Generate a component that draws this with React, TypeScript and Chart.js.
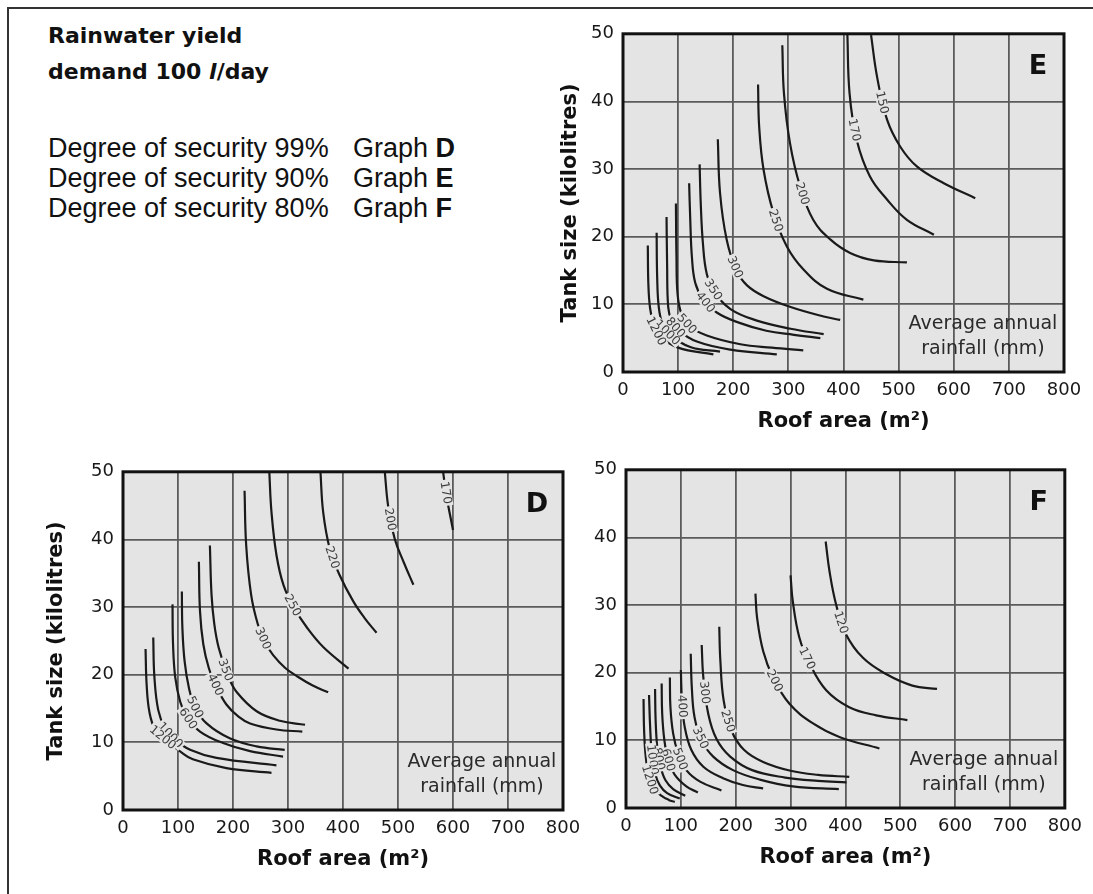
import React, { useEffect, useRef } from 'react';
import { Chart, registerables } from 'chart.js';

Chart.register(...registerables);

const FONT = "'DejaVu Sans', 'Liberation Sans', sans-serif";

const X_TICKS = [0, 100, 200, 300, 400, 500, 600, 700, 800];
const Y_TICKS = [0, 10, 20, 30, 40, 50];
const X_TITLE = 'Roof area (m²)';
const Y_TITLE = 'Tank size (kilolitres)';
const NOTE_LINES = ['Average annual', 'rainfall (mm)'];

type Pt = [number, number];

// ---------- Graph E (90% security) ----------
const E_RAINFALL = ['150', '170', '200', '250', '300', '350', '400', '500', '800', '1000', '1200'];
const E_CURVES: Pt[][] = [
  [[450, 49.8], [461, 43.6], [479, 37.3], [503, 33.3], [533, 30.4], [582, 27.9], [639, 25.7]],
  [[407, 50], [411, 41.2], [424, 34.3], [448, 28.9], [479, 25.5], [515, 22.5], [564, 20.3]],
  [[289, 48.3], [292, 41.2], [303, 33.8], [321, 27.5], [345, 22.5], [376, 19.6], [412, 17.6], [455, 16.5], [515, 16.2]],
  [[245, 42.5], [247, 36.3], [255, 29.9], [273, 23.5], [297, 18.6], [327, 15.2], [370, 12.3], [436, 10.7]],
  [[172, 34.4], [176, 26.5], [188, 19.6], [206, 15], [225, 12.8], [255, 11.2], [304, 9.6], [364, 8.2], [394, 7.7]],
  [[139, 30.7], [141, 25], [145, 19], [152, 14.5], [166, 11.9], [195, 9.3], [243, 7.6], [304, 6.4], [364, 5.6]],
  [[120, 27.9], [122, 22.5], [125, 17], [131, 13.2], [145, 10.8], [170, 8.8], [210, 7.3], [260, 6.1], [310, 5.5], [358, 5.0]],
  [[96, 24.9], [97, 17], [99, 11.5], [106, 8.6], [120, 6.8], [152, 5.4], [213, 4.1], [270, 3.6], [327, 3.2]],
  [[79, 22.9], [80, 16], [82, 9.6], [88, 7.6], [100, 6.2], [134, 4.5], [195, 3.3], [279, 2.6]],
  [[61, 20.6], [62, 14], [65, 9.5], [72, 7], [84, 5.6], [122, 3.7], [176, 3.0]],
  [[45, 18.7], [46, 13], [49, 9.5], [55, 7.2], [66, 5.4], [100, 3.6], [164, 2.6]],
];
const E_LABEL_AT = [1.6, 1.8, 3.2, 3.2, 2.9, 3.9, 4.2, 3.8, 3.7, 3.8, 3.6];

// ---------- Graph D (99% security) ----------
const D_RAINFALL = ['170', '200', '220', '250', '300', '350', '400', '500', '600', '1000', '1200'];
const D_CURVES: Pt[][] = [
  [[582, 50], [588, 46.5], [600, 41.4]],
  [[476, 50], [482, 45], [494, 40.1], [510, 36.7], [528, 33.3]],
  [[359, 50], [364, 44], [376, 38.6], [394, 34.7], [419, 30.8], [440, 28.3], [461, 26.2]],
  [[266, 50], [270, 44], [279, 37.7], [292, 33.2], [311, 29.9], [336, 26.8], [364, 24.1], [410, 20.9]],
  [[221, 47.2], [224, 39.1], [233, 31.8], [245, 27.5], [258, 24.8], [273, 22.9], [295, 21], [316, 19.8], [345, 18.4], [373, 17.4]],
  [[158, 39.1], [161, 31.8], [166, 27.5], [174, 24], [191, 19.8], [207, 17.4], [243, 14.6], [285, 13.2], [331, 12.6]],
  [[138, 36.7], [140, 29.4], [146, 24.5], [156, 21], [170, 18.2], [188, 15.6], [210, 13.8], [231, 12.8], [279, 11.9], [326, 11.6]],
  [[107, 32.3], [108, 26.9], [112, 22], [120, 18], [131, 15.2], [152, 12.8], [194, 10.6], [243, 9.4], [294, 8.9]],
  [[90, 30.4], [91, 24.5], [95, 19.6], [104, 16], [116, 13.8], [140, 11.6], [182, 9.9], [231, 8.7], [291, 7.9]],
  [[55, 25.5], [57, 19.8], [64, 14.8], [76, 12.2], [95, 10.4], [122, 8.9], [170, 7.7], [279, 6.6]],
  [[41, 23.8], [43, 18.5], [48, 14.5], [58, 12], [80, 10.2], [105, 8.6], [127, 7.5], [188, 6.2], [270, 5.5]],
];
const D_LABEL_AT = [0.9, 1.4, 2.3, 3.9, 3.8, 3.8, 3.9, 4.0, 4.1, 3.6, 3.7];

// ---------- Graph F (80% security) ----------
const F_RAINFALL = ['120', '170', '200', '250', '300', '350', '400', '500', '600', '800', '1000', '1200'];
const F_CURVES: Pt[][] = [
  [[364, 39.4], [371, 35], [383, 30.1], [401, 25.7], [432, 22.2], [474, 19.8], [522, 18.1], [567, 17.6]],
  [[300, 34.4], [304, 30.6], [316, 25.2], [335, 21.3], [365, 17.4], [407, 14.9], [456, 13.7], [513, 13]],
  [[236, 31.7], [239, 28.1], [250, 23.2], [268, 19.3], [298, 15.4], [341, 12.5], [389, 10.5], [462, 8.8]],
  [[170, 26.8], [172, 21.8], [178, 15.9], [192, 11.5], [215, 8.6], [250, 6.8], [300, 5.5], [350, 4.9], [407, 4.6]],
  [[138, 24.1], [141, 19.3], [150, 13.9], [165, 10.2], [190, 7.6], [230, 5.6], [290, 4.5], [350, 4.0], [402, 3.8]],
  [[118, 22.8], [120, 17.8], [125, 13.4], [138, 10], [159, 7.6], [195, 5.6], [244, 4.2], [304, 3.2], [388, 2.8]],
  [[100, 20.4], [102, 15.9], [107, 12], [119, 8.6], [141, 6.1], [177, 4.4], [213, 3.4], [250, 2.9]],
  [[80, 19.3], [81, 14.9], [86, 11], [95, 8.1], [110, 5.6], [135, 3.9], [174, 2.6]],
  [[65, 18.4], [66, 13.9], [70, 10], [77, 7.1], [89, 4.9], [110, 3.2], [131, 2.3]],
  [[53, 17.6], [54, 13], [57, 9], [63, 6.1], [72, 4.1], [86, 2.8], [108, 1.8]],
  [[42, 16.7], [44, 12], [47, 8.1], [53, 5.1], [62, 3.3], [75, 2.2], [98, 1.4]],
  [[32, 16.1], [33, 11.5], [36, 7.6], [42, 4.6], [52, 2.8], [65, 1.8], [78, 1.2], [89, 0.9]],
];
const F_LABEL_AT = [2.6, 2.8, 3.1, 2.7, 1.4, 2.9, 1.2, 3.3, 3.0, 2.6, 2.3, 3.2];

type Box = { cx: number; cy: number; cw: number; ch: number; L: number; T: number; R: number; B: number };

const PLOT_BG = '#e4e4e4';

function bezierAt(p0: any, p1: any, t: number) {
  const c1x = p0.cp2x ?? p0.x, c1y = p0.cp2y ?? p0.y;
  const c2x = p1.cp1x ?? p1.x, c2y = p1.cp1y ?? p1.y;
  const u = 1 - t;
  const x = u * u * u * p0.x + 3 * u * u * t * c1x + 3 * u * t * t * c2x + t * t * t * p1.x;
  const y = u * u * u * p0.y + 3 * u * u * t * c1y + 3 * u * t * t * c2y + t * t * t * p1.y;
  const dx = 3 * u * u * (c1x - p0.x) + 6 * u * t * (c2x - c1x) + 3 * t * t * (p1.x - c2x);
  const dy = 3 * u * u * (c1y - p0.y) + 6 * u * t * (c2y - c1y) + 3 * t * t * (p1.y - c2y);
  return { x, y, ang: Math.atan2(dy, dx) };
}

const decorPlugin = {
  id: 'decor',
  beforeDraw(chart: any) {
    const { ctx, chartArea: a } = chart;
    ctx.save();
    ctx.fillStyle = PLOT_BG;
    ctx.fillRect(a.left, a.top, a.right - a.left, a.bottom - a.top);
    ctx.restore();
  },
  afterDatasetsDraw(chart: any, _args: any, opts: any) {
    const ctx = chart.ctx;
    ctx.save();
    ctx.font = `12px ${FONT}`;
    ctx.textAlign = 'center';
    ctx.textBaseline = 'middle';
    const dpr = chart.currentDevicePixelRatio || 1;
    chart.data.datasets.forEach((ds: any, i: number) => {
      const pos = opts.labelAt?.[i];
      if (pos == null) return;
      const pts = chart.getDatasetMeta(i).data;
      if (pts.length < 2) return;
      const k = Math.min(Math.floor(pos), pts.length - 2);
      const t = Math.min(1, pos - k);
      const { x, y, ang } = bezierAt(pts[k], pts[k + 1], t);
      const w = ctx.measureText(ds.label).width;
      ctx.setTransform(dpr, 0, 0, dpr, 0, 0);
      ctx.translate(x, y);
      ctx.rotate(ang);
      ctx.fillStyle = PLOT_BG;
      ctx.fillRect(-w / 2 - 1.5, -5.5, w + 3, 11);
      ctx.fillStyle = '#3c3c3c';
      ctx.fillText(ds.label, 0, 0.5);
    });
    ctx.restore();
  },
  afterDraw(chart: any, _args: any, opts: any) {
    const { ctx, chartArea: a } = chart;
    ctx.save();
    ctx.strokeStyle = '#111';
    ctx.lineWidth = 3;
    ctx.strokeRect(a.left, a.top, a.right - a.left, a.bottom - a.top);
    ctx.fillStyle = '#111';
    ctx.textAlign = 'center';
    ctx.textBaseline = 'middle';
    ctx.font = `bold 27px ${FONT}`;
    ctx.fillText(opts.letter, a.right - 26, a.top + 33);
    ctx.font = `19px ${FONT}`;
    ctx.fillStyle = '#2a2a2a';
    ctx.fillText(NOTE_LINES[0], a.right - 81, a.bottom - 48);
    ctx.fillText(NOTE_LINES[1], a.right - 81, a.bottom - 23);
    ctx.restore();
  },
};

type PanelProps = {
  letter: string;
  rainfall: string[];
  curves: Pt[][];
  labelAt: number[];
  box: Box;
  yTitle: boolean;
  yTitlePad: number;
};

function Panel({ letter, rainfall, curves, labelAt, box, yTitle, yTitlePad }: PanelProps) {
  const ref = useRef<HTMLCanvasElement>(null);
  useEffect(() => {
    const canvas = ref.current;
    if (!canvas) return;
    const chart = new Chart(canvas, {
      type: 'line',
      data: {
        datasets: curves.map((c, i) => ({
          label: rainfall[i],
          data: c.map(([x, y]) => ({ x, y })),
          borderColor: '#1a1a1a',
          borderWidth: 2.2,
          pointRadius: 0,
          fill: false,
          tension: 0.4,
        })),
      },
      options: {
        responsive: false,
        animation: false,
        layout: { padding: { top: box.T - box.cy, right: box.cx + box.cw - box.R, left: 0, bottom: 0 } },
        plugins: {
          legend: { display: false },
          tooltip: { enabled: false },
          decor: { letter, labelAt },
        } as any,
        scales: {
          x: {
            type: 'linear',
            min: 0,
            max: 800,
            afterBuildTicks: (s: any) => { s.ticks = X_TICKS.map((v) => ({ value: v })); },
            afterFit: (s: any) => { s.height = box.cy + box.ch - box.B; },
            grid: { color: '#5b5b5b', lineWidth: 1.8, drawTicks: false },
            border: { display: false },
            ticks: { padding: 8, color: '#181818', font: { family: FONT, size: 18 }, maxRotation: 0, autoSkip: false },
            title: {
              display: true,
              text: X_TITLE,
              color: '#111',
              font: { family: FONT, size: 21, weight: 'bold' },
              padding: { top: 0, bottom: 8 },
            },
          },
          y: {
            type: 'linear',
            min: 0,
            max: 50,
            afterBuildTicks: (s: any) => { s.ticks = Y_TICKS.map((v) => ({ value: v })); },
            afterFit: (s: any) => { s.width = box.L - box.cx; },
            grid: { color: '#5b5b5b', lineWidth: 1.8, drawTicks: false },
            border: { display: false },
            ticks: { padding: 9, color: '#181818', font: { family: FONT, size: 18 }, autoSkip: false },
            title: {
              display: yTitle,
              text: Y_TITLE,
              color: '#111',
              font: { family: FONT, size: 21, weight: 'bold' },
              padding: { top: yTitlePad, bottom: 0 },
            },
          },
        },
      } as any,
      plugins: [decorPlugin],
    });
    return () => chart.destroy();
  }, []);
  return (
    <canvas
      ref={ref}
      width={box.cw}
      height={box.ch}
      style={{ position: 'absolute', left: box.cx, top: box.cy, width: box.cw, height: box.ch }}
    />
  );
}

const BOX_E: Box = { cx: 530, cy: 14, cw: 560, ch: 428, L: 623, T: 31, R: 1064, B: 372 };
const BOX_D: Box = { cx: 10, cy: 452, cw: 580, ch: 428, L: 123, T: 469, R: 563, B: 810 };
const BOX_F: Box = { cx: 560, cy: 450, cw: 530, ch: 428, L: 626, T: 467, R: 1065, B: 808 };

const SECURITY_ROWS = [
  ['Degree of security 99%', 'D'],
  ['Degree of security 90%', 'E'],
  ['Degree of security 80%', 'F'],
];

export default function App() {
  return (
    <div>
      <div
        style={{
          position: 'absolute',
          left: 7,
          top: 7,
          width: 1086,
          height: 887,
          boxSizing: 'border-box',
          borderTop: '2px solid #333',
          borderLeft: '2px solid #333',
          background: '#fff',
        }}
      />
      <div
        style={{
          position: 'absolute',
          left: 48,
          top: 18,
          fontFamily: "'DejaVu Sans', sans-serif",
          fontWeight: 'bold',
          fontSize: 22,
          lineHeight: '36px',
          color: '#111',
          whiteSpace: 'nowrap',
        }}
      >
        <div>Rainwater yield</div>
        <div>
          demand 100 <i>l</i>/day
        </div>
      </div>
      <div
        style={{
          position: 'absolute',
          left: 48,
          top: 133,
          fontFamily: "'Liberation Sans', Arial, sans-serif",
          fontSize: 27,
          lineHeight: '30px',
          color: '#111',
          whiteSpace: 'nowrap',
        }}
      >
        {SECURITY_ROWS.map(([txt, g]) => (
          <div key={g}>
            <span style={{ display: 'inline-block', width: 305 }}>{txt}</span>
            <span>
              Graph <b>{g}</b>
            </span>
          </div>
        ))}
      </div>
      <Panel letter="E" rainfall={E_RAINFALL} curves={E_CURVES} labelAt={E_LABEL_AT} box={BOX_E} yTitle={true} yTitlePad={28} />
      <Panel letter="D" rainfall={D_RAINFALL} curves={D_CURVES} labelAt={D_LABEL_AT} box={BOX_D} yTitle={true} yTitlePad={34} />
      <Panel letter="F" rainfall={F_RAINFALL} curves={F_CURVES} labelAt={F_LABEL_AT} box={BOX_F} yTitle={false} yTitlePad={0} />
    </div>
  );
}
